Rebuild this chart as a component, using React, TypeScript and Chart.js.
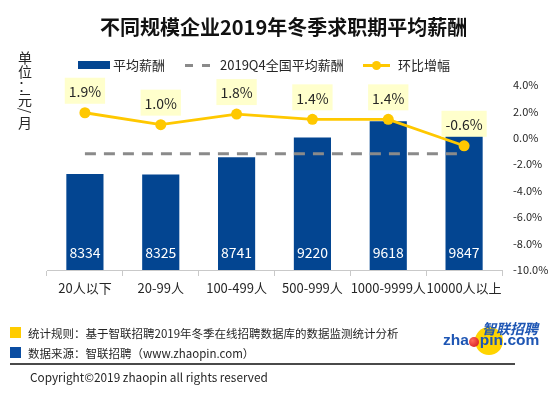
import React, { useEffect, useRef } from 'react';
import { Chart, registerables } from 'chart.js';

Chart.register(...registerables);

const categories = ['20人以下', '20-99人', '100-499人', '500-999人', '1000-9999人', '10000人以上'];
const salary = [8334, 8325, 8741, 9220, 9618, 9847];
const nationalAvg = 8829;
const nationalAvgLine = categories.map(() => nationalAvg);
const growth = [1.9, 1.0, 1.8, 1.4, 1.4, -0.6];
const growthAxisMin = -10;
const growthAxisMax = 4;
const growthAxisStep = 2;
const salaryAxisMin = 6000;
const salaryAxisMax = 10500;

const FONT = '"Noto Sans CJK SC", "Noto Sans", sans-serif';
const BAR_COLOR = '#034591';
const LINE_COLOR = '#FFC800';
const DASH_COLOR = '#8a8a8a';
const TEXT_COLOR = '#262626';

const labelPlugin = {
  id: 'valueLabels',
  afterDatasetsDraw(chart: any) {
    const ctx = chart.ctx;
    const area = chart.chartArea;
    ctx.save();
    ctx.textAlign = 'center';
    ctx.textBaseline = 'middle';
    const barMeta = chart.getDatasetMeta(2);
    ctx.font = `14px ${FONT}`;
    ctx.fillStyle = '#ffffff';
    barMeta.data.forEach((el: any, i: number) => {
      ctx.fillText(String(salary[i]), el.x, area.bottom - 17);
    });
    const lineMeta = chart.getDatasetMeta(0);
    ctx.font = `14px ${FONT}`;
    lineMeta.data.forEach((el: any, i: number) => {
      const txt = growth[i].toFixed(1) + '%';
      const w = ctx.measureText(txt).width + 8;
      const h = 26;
      const cy = el.y - 22;
      ctx.fillStyle = '#FFFFCC';
      ctx.fillRect(el.x - w / 2, cy - h / 2, w, h);
      ctx.fillStyle = TEXT_COLOR;
      ctx.fillText(txt, el.x, cy + 1);
    });
    ctx.restore();
  },
};

const abs = (s: React.CSSProperties): React.CSSProperties => ({ position: 'absolute', ...s });

export default function App() {
  const ref = useRef<HTMLCanvasElement>(null);

  useEffect(() => {
    if (!ref.current) return;
    const chart = new Chart(ref.current, {
      type: 'bar',
      data: {
        labels: categories,
        datasets: [
          {
            type: 'line',
            label: '环比增幅',
            data: growth,
            yAxisID: 'y1',
            borderColor: LINE_COLOR,
            backgroundColor: LINE_COLOR,
            borderWidth: 2.8,
            pointRadius: 5.5,
            pointBackgroundColor: LINE_COLOR,
            pointBorderWidth: 0,
            tension: 0,
            order: 0,
          },
          {
            type: 'line',
            label: '2019Q4全国平均薪酬',
            data: nationalAvgLine,
            yAxisID: 'y',
            borderColor: DASH_COLOR,
            borderWidth: 3,
            borderDash: [11, 8],
            pointRadius: 0,
            order: 1,
          },
          {
            type: 'bar',
            label: '平均薪酬',
            data: salary,
            yAxisID: 'y',
            backgroundColor: BAR_COLOR,
            barPercentage: 0.49,
            categoryPercentage: 1,
            order: 2,
          },
        ],
      } as any,
      options: {
        responsive: false,
        animation: false,
        devicePixelRatio: 1,
        layout: { padding: { left: 47, top: 85, right: 0, bottom: 93 } },
        plugins: {
          legend: { display: false },
          tooltip: { enabled: false },
          title: { display: false },
        },
        scales: {
          x: {
            grid: {
              display: true,
              offset: true,
              drawOnChartArea: false,
              drawTicks: true,
              tickLength: 6,
              color: '#c9c9c9',
            },
            border: { display: true, color: '#c9c9c9' },
            ticks: {
              color: TEXT_COLOR,
              font: { family: FONT, size: 13 },
              padding: 4,
              maxRotation: 0,
              autoSkip: false,
            },
            afterFit: (s: any) => {
              s.height = 30;
            },
          },
          y: {
            display: false,
            min: salaryAxisMin,
            max: salaryAxisMax,
          },
          y1: {
            position: 'right',
            min: growthAxisMin,
            max: growthAxisMax,
            grid: { display: false, drawTicks: false },
            border: { display: false },
            ticks: {
              stepSize: growthAxisStep,
              color: TEXT_COLOR,
              font: { family: FONT, size: 11 },
              padding: 11,
              callback: (v: any) => Number(v).toFixed(1) + '%',
            },
            afterFit: (s: any) => {
              s.width = 52;
            },
          },
        },
      } as any,
      plugins: [labelPlugin],
    });
    return () => chart.destroy();
  }, []);

  const txt = (s: React.CSSProperties): React.CSSProperties => ({
    position: 'absolute',
    fontFamily: FONT,
    color: TEXT_COLOR,
    whiteSpace: 'nowrap',
    ...s,
  });

  return (
    <div style={{ position: 'fixed', left: 0, top: 0, width: 554, height: 393, background: '#fff', overflow: 'hidden' }}>
      <canvas ref={ref} width={554} height={393} style={{ position: 'absolute', left: 0, top: 0, width: 554, height: 393 }} />

      {/* title */}
      <div style={txt({ left: 100, top: 14, fontSize: 20, fontWeight: 700, lineHeight: '26px', color: '#111' })}>
        不同规模企业2019年冬季求职期平均薪酬
      </div>

      {/* unit */}
      <div style={txt({ left: 18, top: 50, width: 14, fontSize: 14, lineHeight: '14px', textAlign: 'center', whiteSpace: 'normal' })}>
        <div>单</div>
        <div>位</div>
        <div>：</div>
        <div>元</div>
        <div style={{ transform: 'rotate(90deg)', lineHeight: '9px', height: 9 }}>/</div>
        <div>月</div>
      </div>

      {/* legend */}
      <div style={abs({ left: 78, top: 61, width: 32, height: 8, background: BAR_COLOR })} />
      <div style={txt({ left: 113, top: 56, fontSize: 13, lineHeight: '18px' })}>平均薪酬</div>
      <div style={abs({ left: 185, top: 64, width: 8, height: 3, background: DASH_COLOR })} />
      <div style={abs({ left: 202, top: 64, width: 8, height: 3, background: DASH_COLOR })} />
      <div style={txt({ left: 220, top: 56, fontSize: 13, lineHeight: '18px' })}>2019Q4全国平均薪酬</div>
      <div style={abs({ left: 363, top: 64, width: 27, height: 3, background: LINE_COLOR })} />
      <div style={abs({ left: 372, top: 61, width: 9, height: 9, borderRadius: '50%', background: LINE_COLOR })} />
      <div style={txt({ left: 398, top: 56, fontSize: 13, lineHeight: '18px' })}>环比增幅</div>

      {/* footer notes */}
      <div style={abs({ left: 10, top: 327, width: 11, height: 11, background: '#FFCC00' })} />
      <div style={txt({ left: 28, top: 324, fontSize: 11.5, lineHeight: '18px' })}>
        统计规则：基于智联招聘2019年冬季在线招聘数据库的数据监测统计分析
      </div>
      <div style={abs({ left: 10, top: 347, width: 11, height: 11, background: '#0A4DA2' })} />
      <div style={txt({ left: 28, top: 344, fontSize: 11.5, lineHeight: '18px' })}>
        数据来源：智联招聘（www.zhaopin.com）
      </div>
      <div style={abs({ left: 10, top: 363, width: 505, height: 2, background: '#4a4a4a' })} />
      <div style={txt({ left: 30, top: 368, fontSize: 11.8, lineHeight: '18px' })}>
        Copyright©2019 zhaopin all rights reserved
      </div>

      {/* logo */}
      <div style={abs({ left: 475, top: 327, width: 28, height: 28, borderRadius: '50%', background: '#FFD400' })} />
      <div style={txt({ left: 482, top: 320, fontSize: 14, fontWeight: 700, lineHeight: '16px', color: '#1E56B4', fontStyle: 'italic' })}>
        智联招聘
      </div>
      <div style={txt({ left: 443, top: 331, fontSize: 15.5, fontWeight: 700, lineHeight: '18px', color: '#1E56B4', fontFamily: '"Liberation Sans", Arial, sans-serif', display: 'flex', alignItems: 'center' })}>
        <span>zha</span>
        <span style={{ display: 'inline-block', width: 10, height: 10, borderRadius: '50%', background: 'radial-gradient(circle at 35% 35%, #ff6a5a, #d0101a)', margin: '3px 0.5px 0 0.5px' }} />
        <span>pin.com</span>
      </div>
    </div>
  );
}
